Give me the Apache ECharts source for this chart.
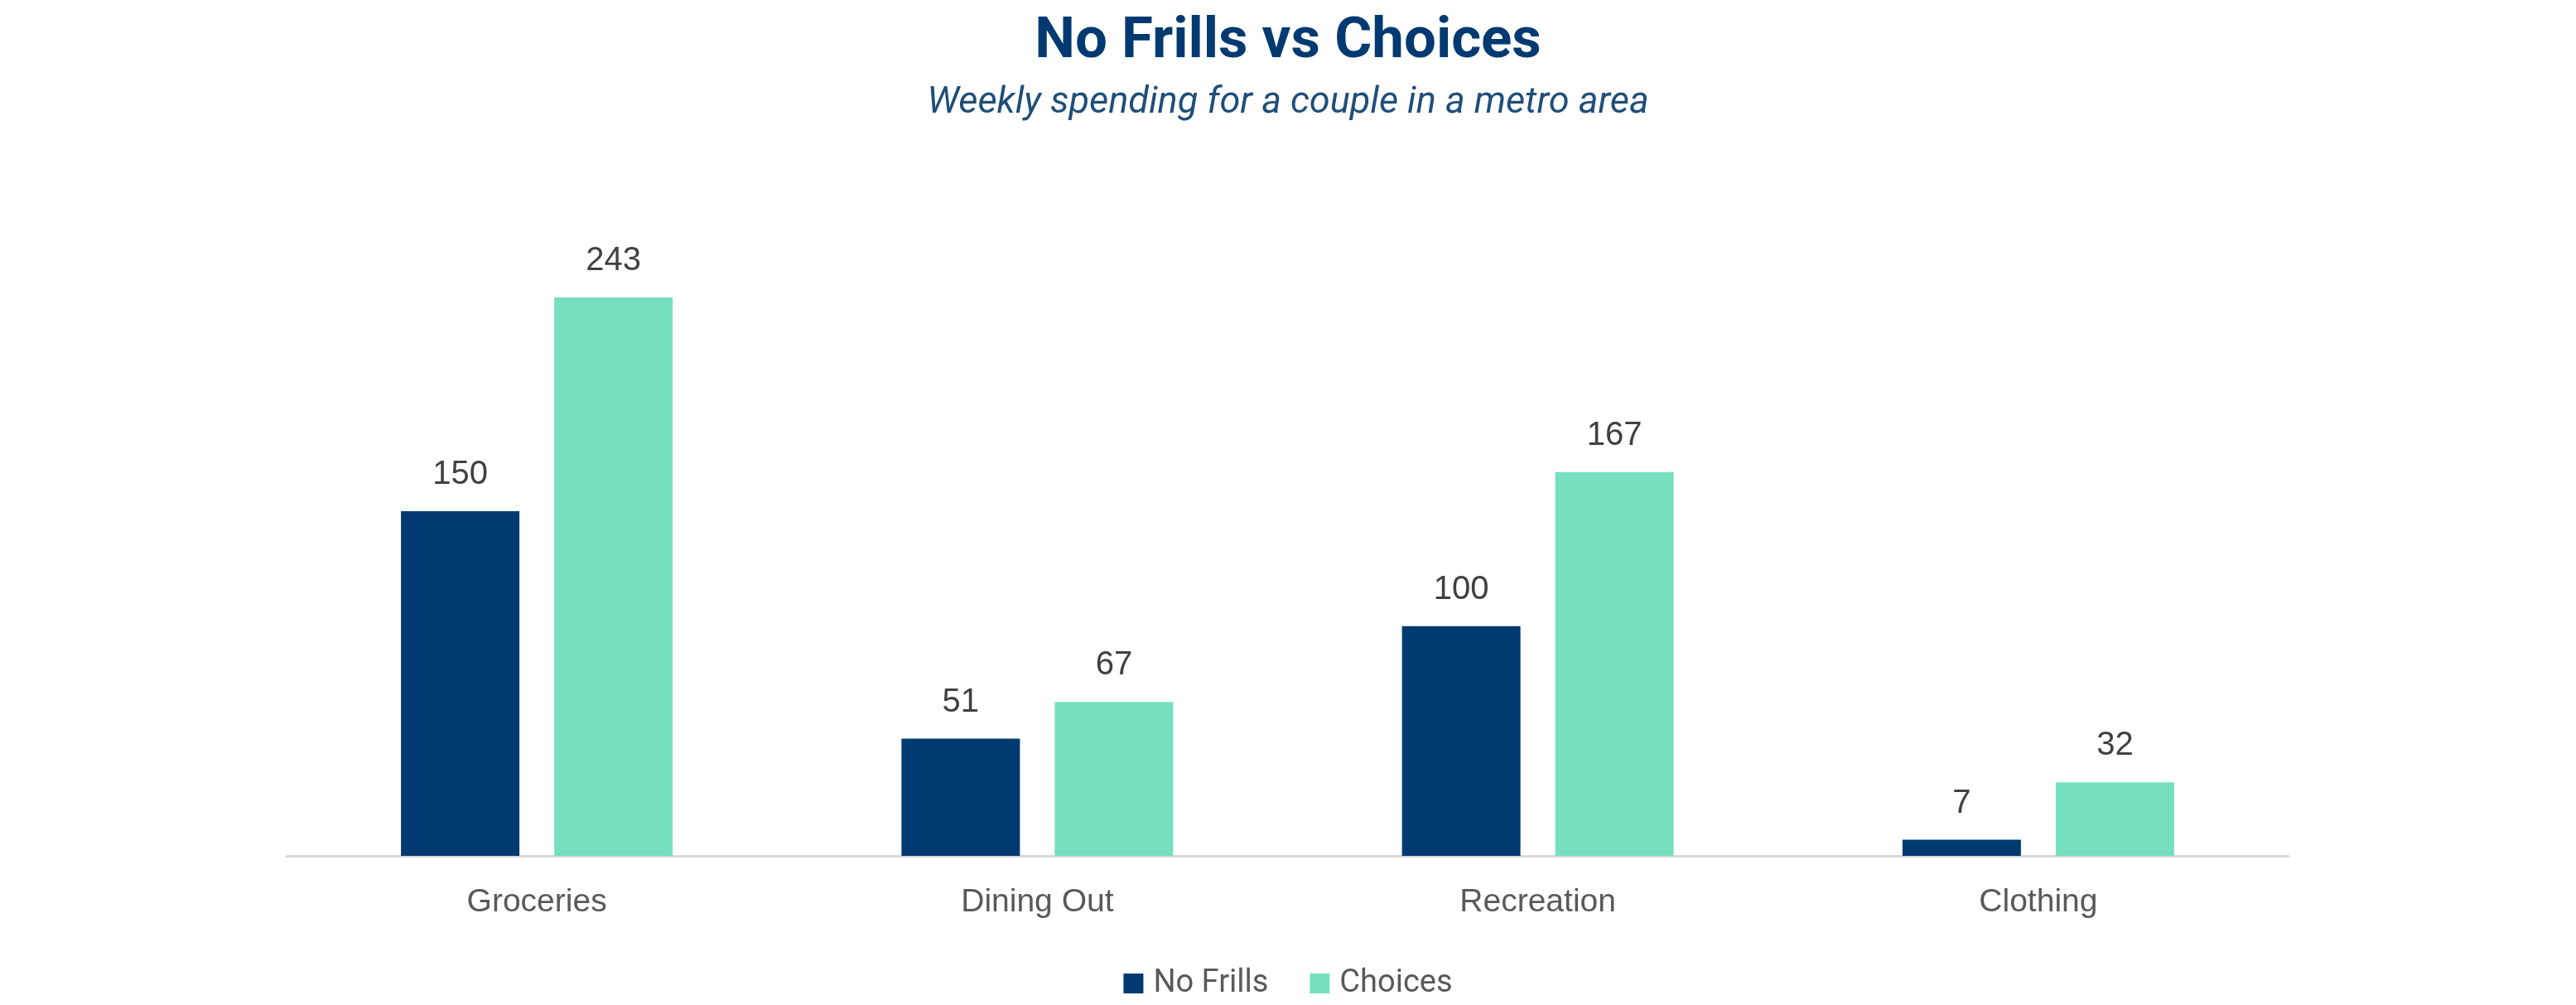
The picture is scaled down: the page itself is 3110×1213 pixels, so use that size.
<!DOCTYPE html>
<html>
<head>
<meta charset="utf-8">
<script src="https://cdn.jsdelivr.net/npm/echarts@6/dist/echarts.min.js"></script>
<style>
html,body{margin:0;padding:0;background:#fff;}
#c{width:3110px;height:1213px;}
</style>
</head>
<body>
<div id="c"></div>
<script>
const categories = ['Groceries', 'Dining Out', 'Recreation', 'Clothing'];
const noFrills = [150, 51, 100, 7];
const choices = [243, 67, 167, 32];
const seriesNames = ['No Frills', 'Choices'];

const chart = echarts.init(document.getElementById('c'), null, {renderer: 'canvas'});
const labelStyle = {
  show: true,
  position: 'top',
  distance: 24,
  fontFamily: 'Liberation Sans',
  fontSize: 40,
  color: '#404040'
};
chart.setOption({
  backgroundColor: '#ffffff',
  animation: false,
  title: {
    text: 'No Frills vs Choices',
    subtext: 'Weekly spending for a couple in a metro area',
    left: 'center',
    top: 12,
    itemGap: 16,
    textStyle: {fontFamily: 'Roboto', fontWeight: 'bold', fontSize: 69, color: '#003a70'},
    subtextStyle: {fontFamily: 'Roboto', fontStyle: 'italic', fontSize: 45, color: '#1f4e79'}
  },
  legend: {
    data: seriesNames,
    bottom: 2,
    left: 'center',
    itemWidth: 24,
    itemHeight: 24,
    itemGap: 50,
    icon: 'rect',
    textStyle: {fontFamily: 'Roboto', fontSize: 38, color: '#595959', padding: [0, 0, 0, 7]}
  },
  grid: {left: 346, right: 347, top: 201, bottom: 180, containLabel: false},
  xAxis: {
    type: 'category',
    data: categories,
    axisLine: {show: true, lineStyle: {color: '#d9d9d9', width: 3}},
    axisTick: {show: false},
    axisLabel: {fontFamily: 'Liberation Sans', fontSize: 39, color: '#595959', margin: 37}
  },
  yAxis: {
    type: 'value',
    min: 0,
    max: 300,
    show: false,
    splitLine: {show: false}
  },
  series: [
    {
      name: seriesNames[0],
      type: 'bar',
      data: noFrills,
      barWidth: 143,
      barGap: '29.4%',
      itemStyle: {color: '#003a70'},
      label: labelStyle
    },
    {
      name: seriesNames[1],
      type: 'bar',
      data: choices,
      barWidth: 143,
      barGap: '29.4%',
      itemStyle: {color: '#76dfbf'},
      label: labelStyle
    }
  ]
});
</script>
</body>
</html>
